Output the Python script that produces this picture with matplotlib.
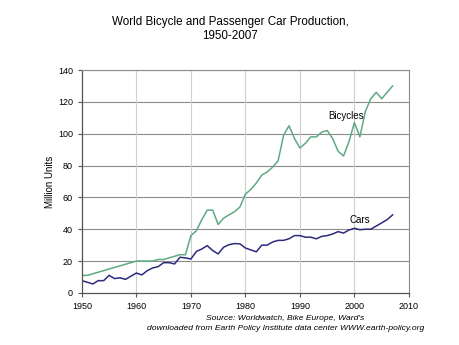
import numpy as np
import matplotlib
matplotlib.use("Agg")
import matplotlib.pyplot as plt

plt.rcParams['font.family'] = ['Liberation Sans', 'DejaVu Sans']

years = np.arange(1950, 2008)
bicycles = [11, 11, 12, 13, 14, 15, 16, 17, 18, 19,
            20, 20, 20, 20, 21, 21, 22, 23, 24, 24,
            36, 39, 46, 52, 52, 43, 47, 49, 51, 54,
            62, 65, 69, 74, 76, 79, 83, 99, 105, 97,
            91, 94, 98, 98, 101, 102, 97, 89, 86, 95,
            107, 98, 114, 122, 126, 122, 126, 130]
cars = [7.7, 6.7, 5.6, 7.7, 7.7, 11, 9, 9.5, 8.5, 10.5,
        12.5, 11.3, 14, 15.7, 16.5, 19, 19, 18.2, 22.4, 22,
        21.3, 26, 27.6, 29.7, 26.6, 24.5, 28.7, 30.3, 31, 30.8,
        28.2, 27, 25.8, 30, 30, 32, 33, 33, 34, 36,
        36, 35, 35, 34, 35.5, 36, 37, 38.5, 37.6, 39.5,
        40.6, 39.7, 40, 40, 42, 44, 46, 49]

fig = plt.figure(figsize=(4.6, 3.45), dpi=100)
ax = fig.add_axes([0.178, 0.151, 0.711, 0.646])

ax.plot(years, bicycles, color='#5fa983', lw=1.1)
ax.plot(years, cars, color='#2d2b7a', lw=1.1)

ax.set_xlim(1950, 2010)
ax.set_ylim(0, 140)
ax.set_xticks(range(1950, 2011, 10))
ax.set_yticks(range(0, 141, 20))
for y in range(20, 141, 20):
    ax.axhline(y, color='#8c8c8c', lw=0.8, zorder=0)
for x in range(1960, 2011, 10):
    ax.axvline(x, color='#cfcfcf', lw=0.8, zorder=0)

for s in ['top', 'right']:
    ax.spines[s].set_color('#8c8c8c')
    ax.spines[s].set_linewidth(0.8)
for s in ['left', 'bottom']:
    ax.spines[s].set_color('#555555')
    ax.spines[s].set_linewidth(0.9)
ax.tick_params(labelsize=6.5, length=3, width=0.8, color='#555555', direction='out')
ax.set_ylabel('Million Units', fontsize=7, labelpad=2)

ax.text(1998.4, 111, 'Bicycles', fontsize=7, ha='center', va='center')
ax.text(2001, 45.8, 'Cars', fontsize=7, ha='center', va='center')

fig.text(0.5, 0.915, 'World Bicycle and Passenger Car Production,\n1950-2007',
         ha='center', va='center', fontsize=8.4, linespacing=1.25)
fig.text(0.62, 0.078, 'Source: Worldwatch, Bike Europe, Ward\'s', ha='center', va='center',
         fontsize=6.1, style='italic')
fig.text(0.62, 0.049, 'downloaded from Earth Policy Institute data center WWW.earth-policy.org',
         ha='center', va='center', fontsize=6.1, style='italic')

fig.savefig('out.png', dpi=100)
